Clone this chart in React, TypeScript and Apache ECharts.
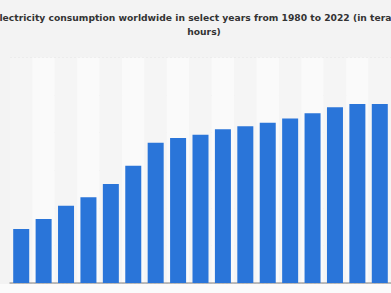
import React, { useEffect, useRef } from "react";
import * as echarts from "echarts";

const years = ["1980", "1985", "1990", "1995", "2000", "2005", "2010", "2011", "2012", "2013", "2014", "2015", "2016", "2017", "2018", "2019", "2020"];
const consumption = [7180, 8510, 10280, 11400, 13170, 15600, 18660, 19290, 19730, 20450, 20850, 21330, 21900, 22570, 23370, 23810, 23810];
const titleLines = ["Electricity consumption worldwide in select years from 1980 to 2022 (in terawatt", "hours)"];

export default function App() {
  const ref = useRef<HTMLDivElement>(null);
  useEffect(() => {
    if (!ref.current) return;
    const chart = echarts.init(ref.current, null, { renderer: "svg" });
    chart.setOption({
      animation: false,
      backgroundColor: "#f3f3f3",
      graphic: [
        { type: "rect", left: 0, top: 284, shape: { width: 391, height: 9 }, style: { fill: "#fbfbfb" }, silent: true },
        {
          type: "text",
          x: 204,
          y: 10,
          style: {
            text: titleLines.join("\n"),
            textAlign: "center",
            font: "bold 9.2px 'DejaVu Sans', sans-serif",
            fill: "#333333",
            lineHeight: 14,
          },
        },
      ],
      grid: { left: 10, right: 0, top: 57.5, bottom: 10, containLabel: false },
      xAxis: {
        type: "category",
        data: years,
        axisLine: { show: true, lineStyle: { color: "#a8a8a8", width: 1.5 } },
        axisTick: { show: false },
        axisLabel: { show: false, interval: 0 },
        splitArea: { show: true, interval: 0, areaStyle: { color: ["#f5f5f5", "#fafafa"] } },
      },
      yAxis: {
        type: "value",
        min: 0,
        max: 30000,
        interval: 5000,
        axisLabel: { show: false },
        axisLine: { show: false },
        axisTick: { show: false },
        splitLine: { show: true, lineStyle: { color: "#e2e2e2", type: [2, 2] } },
      },
      series: [
        {
          type: "bar",
          data: consumption,
          barWidth: 16,
          itemStyle: { color: "#2a75d9" },
        },
      ],
    });
    return () => chart.dispose();
  }, []);
  return <div ref={ref} style={{ width: 391, height: 293, position: "absolute", left: 0, top: 0 }} />;
}
